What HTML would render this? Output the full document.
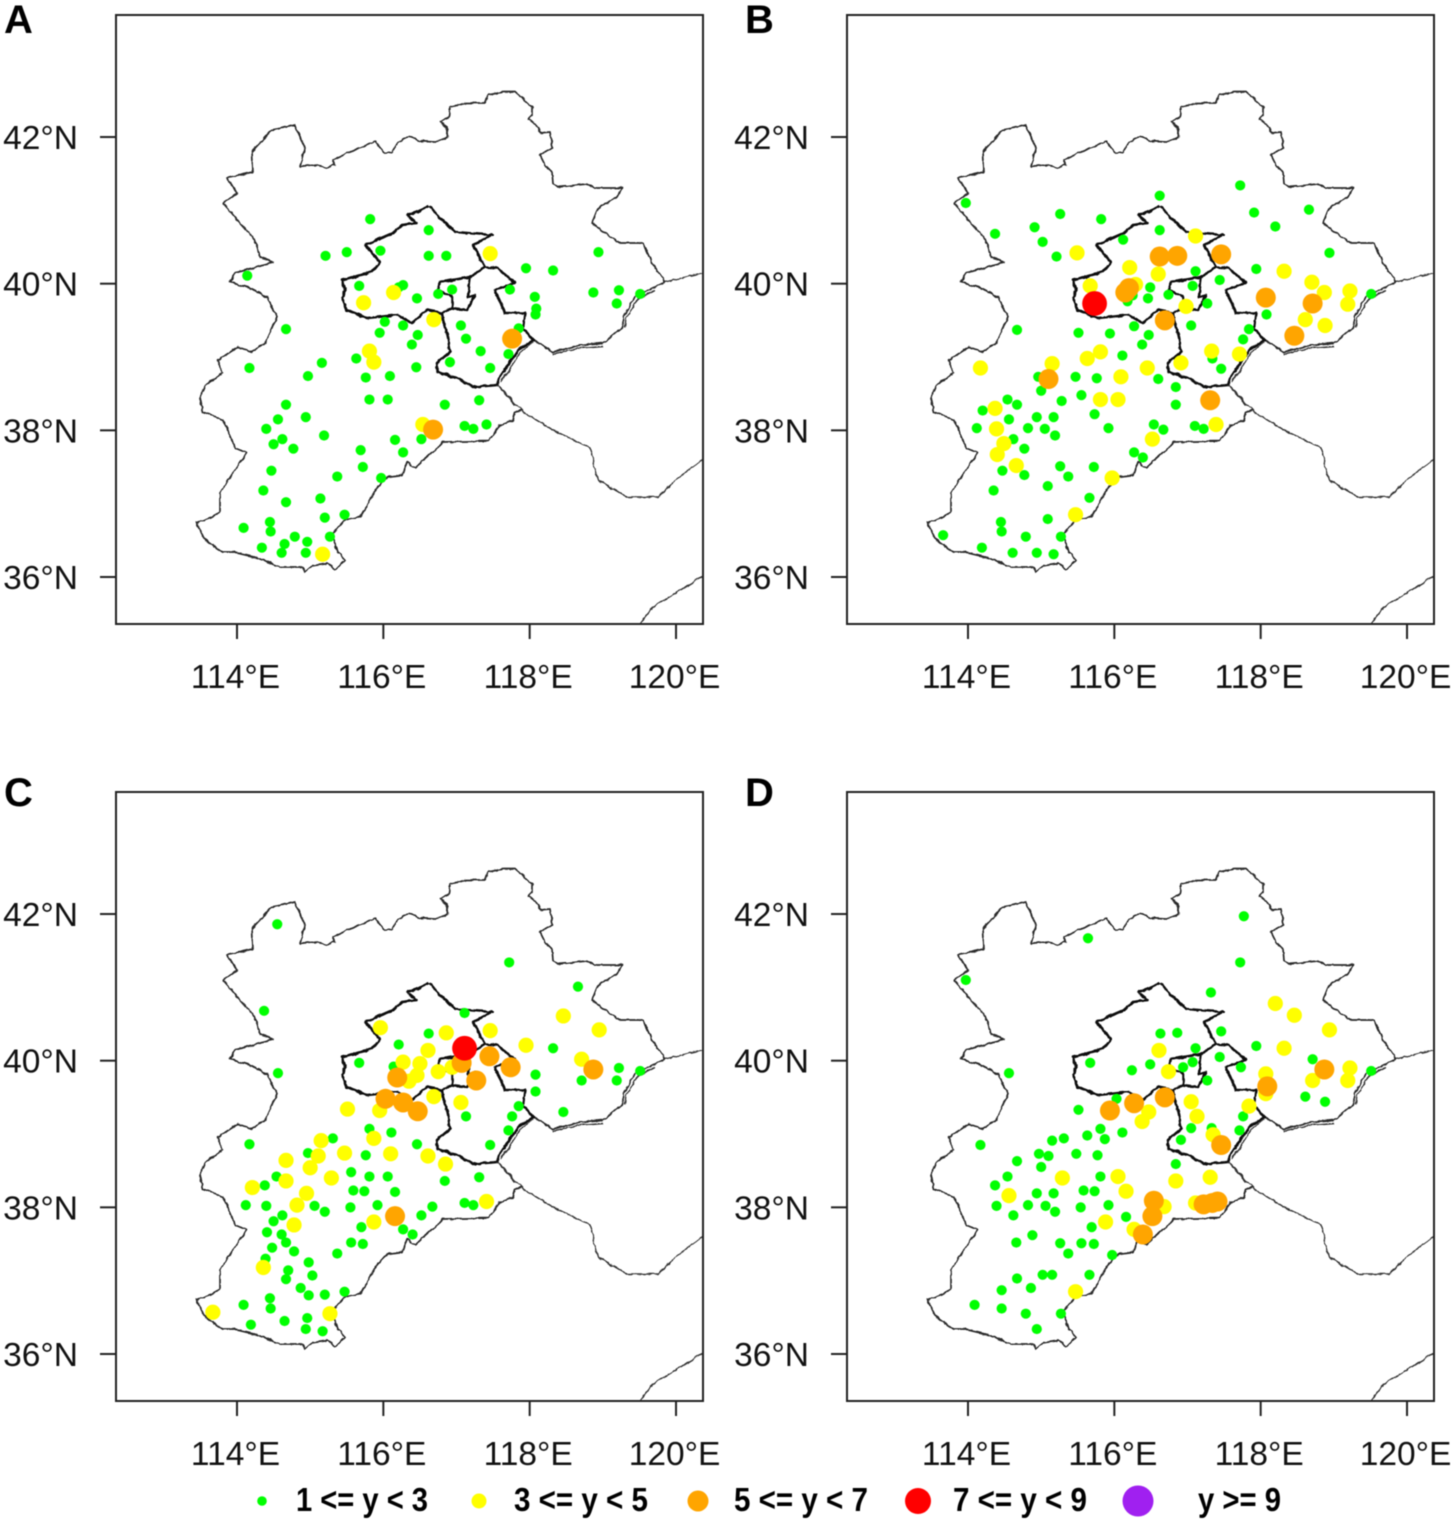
<!DOCTYPE html>
<html lang="en">
<head>
<meta charset="utf-8">
<title>Station maps, panels A to D</title>
<style>
html,body{margin:0;padding:0;background:#fff;}
svg{display:block;font-family:"Liberation Sans",sans-serif;filter:blur(0.45px);}
</style>
</head>
<body>
<svg id="figure" width="1456" height="1519" viewBox="0 0 1456 1519" xmlns="http://www.w3.org/2000/svg">
<defs>
<filter id="wobble" filterUnits="userSpaceOnUse" x="100" y="0" width="620" height="640">
<feTurbulence type="fractalNoise" baseFrequency="0.16" numOctaves="2" seed="4" result="noise"/>
<feDisplacementMap in="SourceGraphic" in2="noise" scale="3.2" xChannelSelector="R" yChannelSelector="G"/>
</filter>
<g id="basemap" filter="url(#wobble)">
<path fill="none" stroke="#2a2a2a" stroke-width="1.7" stroke-linejoin="round" d="M300,167L315,165L327,168L335,165L333,160L350,152L375,141L385,153L392,152L398,142L410,136L418,141L435,142L448,137L447,127L440,122L449,117L450,107L467,103L485,103L488,95L503,92L515,92L532,107L532,115L528,119L538,127L540,133L550,132L552,145L553,148L540,155L545,165L552,172L553,183L558,187L587,184L595,188L622,188L617,197L598,208L592,223L607,235L620,243L643,243L652,263L657,270L665,282L653,288L635,297L623,317L623,327L603,343L580,345L553,352L533,340"/>
<path fill="none" stroke="#2a2a2a" stroke-width="1.7" stroke-linejoin="round" d="M498,385L473,387L457,378L437,372M521,410L515,413L513,420L500,425L488,441L443,442L435,450L415,468L407,462L402,475L387,477L377,488L360,517L345,520L332,535L338,552L345,560L335,570L328,563L313,565L305,572L302,567L280,567L258,558L233,552L222,552L205,540L197,523L213,517L220,512L220,493L233,473L247,453L235,448L223,420L203,412L200,400L205,385L223,373L218,360L238,347L252,352L265,343L277,317L267,297L250,288L230,282L235,273L273,262L260,257L255,240L240,223L223,203L237,193L227,178L253,172L252,152L272,130L295,125L305,148L300,167"/>
<path fill="none" stroke="#111" stroke-width="2.6" stroke-linejoin="round" d="M429,206L435,213L455,232L492,235L473,245L485,267L470,277L440,282L438,290L452,297L452,308L442,313L427,310L412,323L398,315L367,318L347,310L342,298L345,290L342,280L372,272L380,262L365,245L393,233L402,225L417,223L407,215L417,212L429,206"/>
<path fill="none" stroke="#111" stroke-width="2.6" stroke-linejoin="round" d="M485,267L497,268L515,283L495,290L505,313L525,313L523,328L533,340L518,350L498,380L498,385L473,387L457,378L437,372L437,363L450,352L448,337L443,320L442,313M470,277L468,297L475,295L467,310L452,308"/>
<path fill="none" stroke="#333" stroke-width="1.4" stroke-linejoin="round" d="M665,282L702,273M498,385L523,412L553,430L590,448L598,480L627,497L658,497L678,478L702,460M640,623L653,607L702,577M533,342L520,353L501,382M498,385L515,405M553,354L580,348L603,346M625,327L626,318L638,299L655,290"/>
</g>
<clipPath id="plot-clip"><rect x="116" y="15" width="587" height="609"/></clipPath>
</defs>
<g id="panels"></g>
<g id="legend">
<circle cx="262" cy="1501" r="4.8" fill="#00ff00"/>
<text x="296" y="1511" font-size="33" font-weight="bold" textLength="132" lengthAdjust="spacingAndGlyphs">1 &lt;= y &lt; 3</text>
<circle cx="479" cy="1501" r="7.5" fill="#ffff00"/>
<text x="514" y="1511" font-size="33" font-weight="bold" textLength="134" lengthAdjust="spacingAndGlyphs">3 &lt;= y &lt; 5</text>
<circle cx="698" cy="1501" r="10.5" fill="#ffa500"/>
<text x="734" y="1511" font-size="33" font-weight="bold" textLength="134" lengthAdjust="spacingAndGlyphs">5 &lt;= y &lt; 7</text>
<circle cx="918" cy="1501" r="13" fill="#ff0000"/>
<text x="953" y="1511" font-size="33" font-weight="bold" textLength="134" lengthAdjust="spacingAndGlyphs">7 &lt;= y &lt; 9</text>
<circle cx="1138" cy="1501" r="15.5" fill="#a020f0"/>
<text x="1198" y="1511" font-size="33" font-weight="bold" textLength="83" lengthAdjust="spacingAndGlyphs">y &gt;= 9</text>
</g>
</svg>
<script>
const lonTicks = [114, 116, 118, 120];
const latTicks = [36, 38, 40, 42];
const classNames = ['1-to-3', '3-to-5', '5-to-7', '7-to-9'];
const classColors = ['#00ff00', '#ffff00', '#ffa500', '#ff0000'];
const classRadii = [5.1, 7.6, 10, 12.4];

const panelLetters = ['A', 'B', 'C', 'D'];
const panelOffsetX = [0, 731, 0, 731];
const panelOffsetY = [0, 0, 777, 777];
const letterX = [4, 14, 4, 14];
const letterY = [33, 33, 29, 29];

/* each station: [longitude, latitude] */
const a1to3 = [[115.82,40.88],[116.62,40.73],[115.21,40.38],[115.50,40.43],[115.96,40.45],[116.62,40.38],[116.86,40.38],[114.14,40.11],[117.95,40.21],[118.32,40.18],[118.94,40.43],[115.67,39.97],[116.27,39.98],[116.21,39.95],[116.46,39.80],[116.75,39.86],[116.94,39.92],[117.73,39.92],[118.07,39.82],[118.09,39.66],[118.08,39.58],[118.87,39.88],[119.22,39.91],[119.19,39.73],[119.51,39.86],[116.02,39.48],[116.27,39.43],[114.67,39.38],[115.95,39.33],[116.47,39.30],[117.06,39.43],[117.13,39.25],[117.33,39.08],[116.39,39.17],[117.85,39.39],[117.71,39.04],[115.63,38.98],[115.16,38.92],[114.17,38.85],[116.45,38.86],[116.91,38.93],[117.46,38.85],[114.97,38.74],[115.76,38.72],[116.09,38.74],[114.67,38.35],[115.81,38.42],[116.06,38.42],[116.84,38.35],[117.31,38.41],[114.56,38.15],[114.94,38.18],[114.40,38.02],[114.62,37.88],[114.50,37.81],[114.77,37.75],[115.19,37.93],[116.16,37.87],[116.52,37.88],[116.27,37.70],[115.69,37.73],[117.11,38.06],[117.23,38.02],[117.41,38.08],[114.47,37.45],[115.72,37.50],[115.37,37.37],[115.97,37.35],[114.36,37.18],[114.67,37.02],[115.14,37.07],[115.20,36.81],[115.47,36.85],[114.45,36.75],[114.46,36.62],[114.09,36.67],[114.79,36.55],[114.96,36.48],[114.65,36.45],[114.34,36.40],[114.61,36.33],[114.94,36.33],[115.27,36.55]];
const a3to5 = [[117.46,40.41],[116.14,39.88],[115.73,39.74],[116.69,39.51],[115.81,39.08],[115.87,38.93],[116.54,38.08],[115.17,36.31]];
const a5to7 = [[117.76,39.25],[116.68,38.01]];
const a7to9 = [];

const b1to3 = [[117.72,41.34],[116.62,41.20],[113.97,41.10],[117.91,40.97],[118.66,41.01],[115.26,40.95],[115.82,40.88],[114.91,40.77],[118.20,40.78],[116.62,40.73],[114.37,40.68],[115.02,40.57],[116.12,40.60],[115.21,40.37],[118.94,40.42],[117.11,40.17],[117.94,40.20],[117.44,40.05],[117.07,39.97],[116.49,39.95],[116.74,39.85],[116.46,39.80],[116.18,39.76],[116.25,39.84],[117.27,39.73],[119.51,39.86],[118.08,39.58],[114.67,39.37],[116.27,39.42],[115.51,39.33],[115.94,39.32],[116.47,39.30],[117.05,39.43],[117.84,39.38],[117.76,39.24],[116.38,39.17],[116.11,39.02],[117.34,38.98],[117.46,38.84],[115.47,38.73],[115.76,38.71],[114.96,38.73],[116.60,38.70],[116.84,38.59],[115.00,38.54],[115.55,38.48],[115.28,38.40],[116.84,38.35],[114.54,38.42],[114.67,38.35],[114.20,38.27],[115.73,38.22],[114.94,38.18],[115.17,38.18],[114.56,38.15],[114.12,38.03],[114.82,38.03],[115.05,38.02],[115.19,37.93],[115.92,38.03],[116.54,38.08],[116.67,38.01],[117.10,38.06],[117.22,38.02],[114.62,37.88],[114.77,37.75],[116.27,37.70],[116.39,37.63],[114.47,37.45],[115.26,37.51],[115.72,37.50],[114.77,37.39],[115.37,37.37],[115.09,37.24],[114.35,37.18],[115.66,37.08],[114.45,36.75],[115.09,36.79],[114.46,36.62],[114.79,36.55],[115.27,36.55],[113.66,36.57],[114.19,36.40],[114.61,36.33],[114.94,36.33],[115.17,36.31]];
const b3to5 = [[117.11,40.65],[115.49,40.42],[116.21,40.22],[116.60,40.13],[118.32,40.17],[118.70,40.02],[118.87,39.88],[119.22,39.90],[119.19,39.72],[115.67,39.97],[116.29,39.99],[116.98,39.69],[118.61,39.51],[118.88,39.43],[117.33,39.08],[117.71,39.04],[114.17,38.85],[115.15,38.91],[115.63,38.98],[115.81,39.07],[116.91,38.92],[116.45,38.85],[116.09,38.73],[115.81,38.42],[116.05,38.42],[114.37,38.30],[114.39,38.02],[114.49,37.82],[114.40,37.67],[114.66,37.52],[116.52,37.88],[117.39,38.08],[115.97,37.35],[115.47,36.85]];
const b5to7 = [[116.62,40.37],[116.86,40.38],[117.46,40.40],[118.07,39.81],[118.71,39.73],[116.20,39.94],[116.15,39.88],[116.69,39.50],[118.46,39.29],[115.10,38.70],[117.31,38.41]];
const b7to9 = [[115.73,39.73]];

const c1to3 = [[114.55,41.86],[117.72,41.34],[114.37,40.68],[118.66,41.01],[117.11,40.65],[116.62,40.37],[116.21,40.22],[115.67,39.97],[114.56,39.83],[118.32,40.17],[118.08,39.81],[119.22,39.90],[119.19,39.73],[119.51,39.86],[118.71,39.73],[118.08,39.58],[118.46,39.30],[117.85,39.38],[117.76,39.24],[117.71,39.05],[117.13,39.24],[116.14,39.92],[116.11,39.02],[115.81,39.07],[114.17,38.86],[115.31,38.94],[116.46,38.86],[117.46,38.85],[115.76,38.71],[114.97,38.74],[115.56,38.48],[115.81,38.42],[116.06,38.42],[114.54,38.42],[114.38,38.30],[116.84,38.36],[117.31,38.41],[115.59,38.23],[115.74,38.22],[116.16,38.21],[114.12,38.03],[114.40,38.02],[115.06,38.02],[115.20,37.94],[115.55,38.00],[115.92,38.03],[116.67,38.01],[116.52,37.89],[117.11,38.06],[117.23,38.03],[114.62,37.89],[114.50,37.81],[115.70,37.73],[116.27,37.70],[116.40,37.63],[114.41,37.66],[114.61,37.63],[114.67,37.52],[114.48,37.45],[114.78,37.40],[115.56,37.52],[115.72,37.50],[115.37,37.37],[114.39,37.30],[114.98,37.25],[114.70,37.14],[115.03,37.07],[114.67,37.02],[114.87,36.90],[114.98,36.80],[115.20,36.81],[115.47,36.85],[114.45,36.76],[114.46,36.62],[114.09,36.67],[114.96,36.49],[114.65,36.45],[114.19,36.40],[114.94,36.34],[115.17,36.31]];
const c3to5 = [[118.46,40.61],[115.96,40.45],[116.86,40.38],[117.46,40.41],[118.95,40.42],[117.95,40.21],[116.61,40.14],[118.71,40.02],[116.27,39.98],[116.50,39.96],[116.94,39.91],[116.75,39.85],[116.46,39.80],[116.35,39.72],[116.69,39.51],[117.06,39.43],[115.51,39.34],[115.95,39.32],[115.15,38.91],[115.87,38.94],[115.11,38.70],[115.47,38.74],[114.67,38.64],[116.10,38.73],[116.61,38.70],[115.00,38.54],[116.85,38.59],[114.67,38.36],[115.29,38.40],[114.21,38.27],[114.95,38.19],[114.82,38.03],[114.78,37.76],[115.87,37.80],[117.41,38.08],[114.36,37.18],[113.67,36.57],[115.27,36.55]];
const c5to7 = [[117.45,40.06],[117.07,39.97],[117.74,39.91],[116.19,39.77],[117.27,39.73],[118.87,39.88],[116.03,39.48],[116.27,39.43],[116.47,39.31],[116.16,37.88]];
const c7to9 = [[117.11,40.17]];

const d1to3 = [[117.77,41.97],[117.72,41.34],[115.64,41.67],[113.97,41.10],[117.32,40.93],[116.63,40.37],[116.86,40.38],[117.46,40.40],[117.11,40.17],[117.94,40.20],[117.44,40.05],[118.71,40.02],[115.67,39.97],[114.56,39.83],[117.07,39.98],[116.49,39.95],[116.94,39.91],[116.24,39.87],[117.73,39.91],[117.27,39.73],[119.51,39.86],[118.61,39.51],[118.88,39.44],[116.03,39.48],[115.51,39.33],[117.76,39.24],[117.05,39.08],[117.33,39.08],[117.71,39.05],[115.81,39.07],[116.11,39.02],[115.63,38.98],[115.87,38.93],[115.31,38.94],[115.15,38.91],[116.91,38.92],[114.17,38.85],[115.48,38.73],[115.77,38.71],[114.97,38.73],[115.10,38.70],[114.67,38.63],[115.00,38.55],[114.54,38.42],[115.81,38.42],[116.84,38.59],[114.37,38.30],[114.94,38.19],[115.17,38.19],[115.58,38.23],[115.73,38.22],[114.39,38.02],[114.82,38.03],[115.06,38.02],[115.19,37.94],[115.54,38.00],[115.92,38.03],[114.62,37.89],[116.16,37.87],[115.69,37.73],[114.88,37.62],[114.66,37.52],[115.26,37.51],[115.55,37.51],[115.72,37.50],[115.37,37.37],[115.97,37.35],[115.02,37.08],[115.15,37.08],[115.66,37.08],[114.67,37.03],[114.46,36.87],[114.86,36.90],[114.09,36.67],[114.46,36.62],[114.79,36.55],[115.27,36.55],[114.94,36.34]];
const d3to5 = [[118.20,40.78],[118.46,40.62],[118.94,40.42],[116.61,40.14],[118.32,40.17],[116.74,39.85],[118.07,39.82],[119.22,39.90],[119.19,39.73],[118.71,39.73],[118.07,39.55],[117.05,39.44],[117.84,39.38],[116.47,39.30],[117.13,39.24],[116.38,39.17],[117.35,38.99],[115.29,38.40],[116.05,38.42],[116.84,38.36],[117.31,38.41],[116.16,38.22],[114.56,38.16],[116.68,38.01],[117.11,38.06],[115.88,37.80],[116.27,37.70],[115.47,36.85]];
const d5to7 = [[118.87,39.88],[118.09,39.65],[116.69,39.50],[116.27,39.42],[115.94,39.32],[117.46,38.85],[116.54,38.09],[116.52,37.88],[116.39,37.63],[117.22,38.04],[117.34,38.06],[117.41,38.08]];
const d7to9 = [];

const panelSeries = [
  [a1to3, a3to5, a5to7, a7to9],
  [b1to3, b3to5, b5to7, b7to9],
  [c1to3, c3to5, c5to7, c7to9],
  [d1to3, d3to5, d5to7, d7to9]
];

const NS = 'http://www.w3.org/2000/svg';
const PX_PER_LON = 73.17;
const PX_PER_LAT = 73.33;
function xScale(lon) { return 237 + (lon - 114) * PX_PER_LON; }
function yScale(lat) { return 577 - (lat - 36) * PX_PER_LAT; }

function make(tag, attrs, parent) {
  const el = document.createElementNS(NS, tag);
  for (const k in attrs) el.setAttribute(k, attrs[k]);
  parent.appendChild(el);
  return el;
}

const panelsRoot = document.getElementById('panels');
panelLetters.forEach(function (letter, p) {
  const key = letter.toLowerCase();
  const panel = make('g', { transform: 'translate(' + panelOffsetX[p] + ',' + panelOffsetY[p] + ')' }, panelsRoot);
  
  

  const base = make('use', { href: '#basemap', 'clip-path': 'url(#plot-clip)' }, panel);
  
  

  panelSeries[p].forEach(function (points, c) {
    const layer = make('g', { fill: classColors[c] }, panel);
    
    
    points.forEach(function (pt) {
      const dot = make('circle', { cx: xScale(pt[0]), cy: yScale(pt[1]), r: classRadii[c] }, layer);
      
      
    });
  });

  const frame = make('rect', { x: 116, y: 15, width: 587, height: 609, fill: 'none', stroke: '#222', 'stroke-width': 2 }, panel);
  
  

  lonTicks.forEach(function (lon) {
    const tick = make('line', { x1: xScale(lon), x2: xScale(lon), y1: 624, y2: 639, stroke: '#222', 'stroke-width': 2 }, panel);
    
    
    const label = make('text', { x: xScale(lon) - 1.5, y: 688, 'font-size': 33.5, 'text-anchor': 'middle', fill: '#111' }, panel);
    
    
    label.textContent = lon + '°E';
  });

  latTicks.forEach(function (lat) {
    const tick = make('line', { x1: 100, x2: 116, y1: yScale(lat), y2: yScale(lat), stroke: '#222', 'stroke-width': 2 }, panel);
    
    
    const label = make('text', { x: 78, y: yScale(lat) + 12, 'font-size': 33.5, 'text-anchor': 'end', fill: '#111' }, panel);
    
    
    label.textContent = lat + '°N';
  });

  const tag = make('text', { x: letterX[p], y: letterY[p], 'font-size': 40, 'font-weight': 'bold', fill: '#000' }, panel);
  
  
  tag.textContent = letter;
});
</script>
</body>
</html>
